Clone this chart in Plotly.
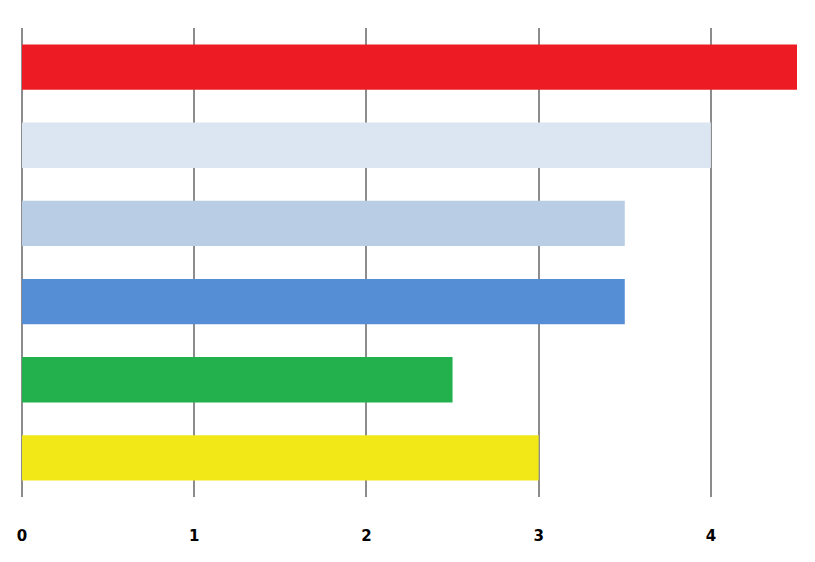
import plotly.graph_objects as go

# 数据（自上而下）
categories = ["A", "B", "C", "D", "E", "F"]
values = [4.5, 4.0, 3.5, 3.5, 2.5, 3.0]
bar_colors = ["#ED1C24", "#DCE6F2", "#B9CDE5", "#558ED5", "#22B14C", "#F2E817"]
tick_vals = [0, 1, 2, 3, 4]

fig = go.Figure()
fig.add_trace(go.Bar(
    x=values,
    y=categories,
    orientation="h",
    marker=dict(color=bar_colors, line=dict(width=0)),
    showlegend=False,
))

fig.update_layout(
    width=815,
    height=562,
    paper_bgcolor="white",
    plot_bgcolor="white",
    bargap=0.42,
    margin=dict(l=9, r=26, t=20, b=73),
    xaxis=dict(
        range=[0, 4.5],
        tickvals=tick_vals,
        showgrid=True,
        gridcolor="#8C8C8C",
        gridwidth=2,
        zeroline=True,
        zerolinecolor="#8C8C8C",
        zerolinewidth=2,
        showline=False,
        ticks="",
        ticklabelstandoff=28,
        tickfont=dict(family="DejaVu Sans", size=15, color="#000000", weight="bold"),
    ),
    yaxis=dict(
        categoryorder="array",
        categoryarray=categories,
        autorange="reversed",
        showticklabels=False,
        showgrid=False,
        zeroline=False,
        showline=False,
    ),
)

fig.write_html("out.html")
